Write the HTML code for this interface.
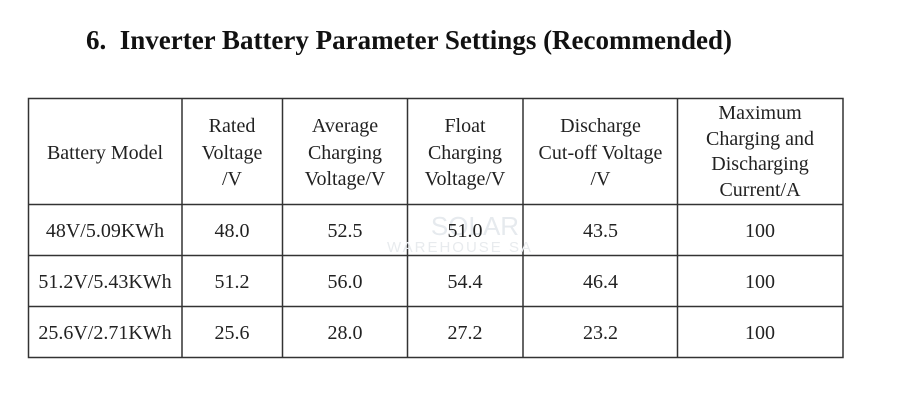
<!DOCTYPE html>
<html><head><style>
body{margin:0;width:900px;height:418px;background:#fff;position:relative;font-family:"Liberation Serif",serif;color:#222;overflow:hidden}
.t{position:absolute;font-size:20px;line-height:26.5px;text-align:center;white-space:nowrap}
h1{position:absolute;left:0;width:818px;text-align:center;top:25px;margin:0;font-size:27px;font-weight:bold;color:#111}
</style></head><body>
<h1>6.&nbsp; Inverter Battery Parameter Settings (Recommended)</h1>
<svg width="900" height="418" style="position:absolute;left:0;top:0">
<g stroke="#333" stroke-width="1.5" fill="none">
<rect x="28.5" y="98.5" width="814.5" height="259"/>
<line x1="28" y1="204.5" x2="843" y2="204.5"/>
<line x1="28" y1="255.5" x2="843" y2="255.5"/>
<line x1="28" y1="306.5" x2="843" y2="306.5"/>
<line x1="182" y1="98" x2="182" y2="358"/>
<line x1="282.5" y1="98" x2="282.5" y2="358"/>
<line x1="407.5" y1="98" x2="407.5" y2="358"/>
<line x1="523" y1="98" x2="523" y2="358"/>
<line x1="677.5" y1="98" x2="677.5" y2="358"/>
</g>
<text x="475" y="235" font-family="Liberation Sans" font-size="26" fill="#e6eaee" text-anchor="middle">SOLAR</text>
<text x="460" y="252" font-family="Liberation Sans" font-size="15" fill="#e8ebee" text-anchor="middle" letter-spacing="2">WAREHOUSE SA</text>
</svg>
<div class="t" style="left:28px;width:154px;top:140px">Battery Model</div>
<div class="t" style="left:182px;width:100px;top:113px">Rated<br>Voltage<br>/V</div>
<div class="t" style="left:282px;width:126px;top:113px">Average<br>Charging<br>Voltage/V</div>
<div class="t" style="left:407px;width:116px;top:113px">Float<br>Charging<br>Voltage/V</div>
<div class="t" style="left:523px;width:155px;top:113px">Discharge<br>Cut-off Voltage<br>/V</div>
<div class="t" style="left:677px;width:166px;top:101px;line-height:25.5px">Maximum<br>Charging and<br>Discharging<br>Current/A</div>
<div class="t" style="left:28px;width:154px;top:218px">48V/5.09KWh</div>
<div class="t" style="left:182px;width:100px;top:218px">48.0</div>
<div class="t" style="left:282px;width:126px;top:218px">52.5</div>
<div class="t" style="left:407px;width:116px;top:218px">51.0</div>
<div class="t" style="left:523px;width:155px;top:218px">43.5</div>
<div class="t" style="left:677px;width:166px;top:218px">100</div>
<div class="t" style="left:28px;width:154px;top:269px">51.2V/5.43KWh</div>
<div class="t" style="left:182px;width:100px;top:269px">51.2</div>
<div class="t" style="left:282px;width:126px;top:269px">56.0</div>
<div class="t" style="left:407px;width:116px;top:269px">54.4</div>
<div class="t" style="left:523px;width:155px;top:269px">46.4</div>
<div class="t" style="left:677px;width:166px;top:269px">100</div>
<div class="t" style="left:28px;width:154px;top:320px">25.6V/2.71KWh</div>
<div class="t" style="left:182px;width:100px;top:320px">25.6</div>
<div class="t" style="left:282px;width:126px;top:320px">28.0</div>
<div class="t" style="left:407px;width:116px;top:320px">27.2</div>
<div class="t" style="left:523px;width:155px;top:320px">23.2</div>
<div class="t" style="left:677px;width:166px;top:320px">100</div>
</body></html>
